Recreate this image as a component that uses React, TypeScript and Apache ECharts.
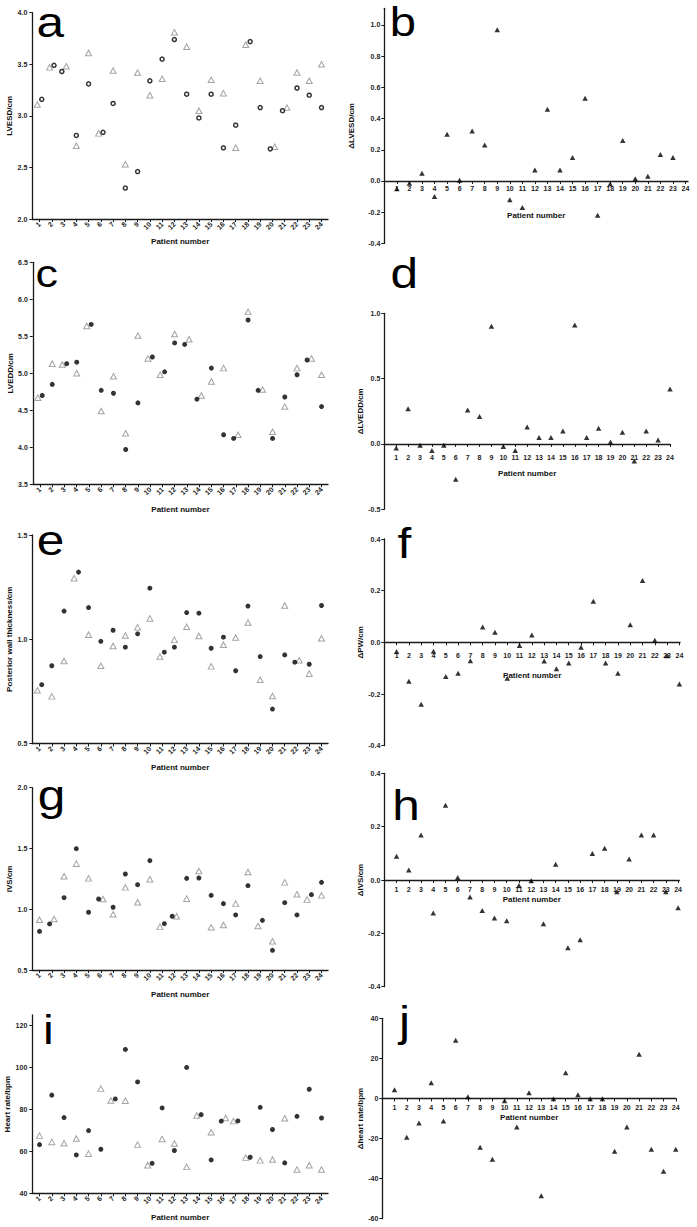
import React, { useEffect, useRef } from "react";
import * as echarts from "echarts";

// ---------- DATA ----------
const patients = [1, 2, 3, 4, 5, 6, 7, 8, 9, 10, 11, 12, 13, 14, 15, 16, 17, 18, 19, 20, 21, 22, 23, 24];

// a: LVESD (cm) — open grey triangles / black circles
const lvesdTriangle = [3.11, 3.47, 3.48, 2.71, 3.61, 2.83, 3.44, 2.53, 3.42, 3.2, 3.36, 3.81, 3.67, 3.05, 3.35, 3.22, 2.69, 3.69, 3.34, 2.7, 3.08, 3.42, 3.34, 3.5];
const lvesdCircle = [3.16, 3.49, 3.43, 2.81, 3.31, 2.84, 3.12, 2.3, 2.46, 3.34, 3.55, 3.74, 3.21, 2.98, 3.21, 2.69, 2.91, 3.72, 3.08, 2.68, 3.05, 3.27, 3.2, 3.08];
// b: ΔLVESD (cm)
const deltaLvesd = [-0.05, -0.015, 0.05, -0.1, 0.3, 0.005, 0.32, 0.23, 0.97, -0.12, -0.17, 0.07, 0.46, 0.07, 0.15, 0.53, -0.22, -0.02, 0.26, 0.015, 0.03, 0.17, 0.15, null];

// c: LVEDD (cm)
const lveddTriangle = [4.67, 5.13, 5.12, 5.0, 5.64, 4.49, 4.96, 4.19, 5.51, 5.2, 4.98, 5.53, 5.46, 4.7, 4.89, 5.07, 4.17, 5.83, 4.78, 4.21, 4.55, 5.07, 5.2, 4.98];
const lveddCircle = [4.7, 4.85, 5.13, 5.15, 5.66, 4.77, 4.73, 3.97, 4.6, 5.22, 5.02, 5.41, 5.39, 4.65, 5.07, 4.17, 4.12, 5.72, 4.77, 4.12, 4.68, 4.98, 5.18, 4.55];
// d: ΔLVEDD (cm)
const deltaLvedd = [-0.03, 0.27, -0.01, -0.05, -0.01, -0.27, 0.26, 0.21, 0.9, -0.02, -0.05, 0.13, 0.05, 0.05, 0.1, 0.91, 0.05, 0.12, 0.015, 0.09, -0.13, 0.1, 0.03, 0.42];

// e: posterior wall thickness (cm)
const pwTriangle = [0.755, 0.726, 0.896, 1.293, 1.022, 0.873, 0.968, 1.018, 1.058, 1.1, 0.917, 0.997, 1.06, 1.016, 0.87, 0.974, 1.008, 1.08, 0.806, 0.728, 1.162, 0.899, 0.835, 1.005];
const pwCircle = [0.782, 0.873, 1.135, 1.322, 1.152, 0.99, 1.043, 0.962, 1.026, 1.245, 0.938, 0.962, 1.128, 1.125, 0.957, 1.01, 0.849, 1.159, 0.917, 0.665, 0.925, 0.89, 0.88, 1.162];
// f: ΔPW (cm)
const deltaPw = [-0.035, -0.151, -0.24, -0.034, -0.132, -0.12, -0.071, 0.059, 0.039, -0.139, -0.012, 0.028, -0.072, -0.102, -0.08, -0.019, 0.159, -0.08, -0.12, 0.068, 0.239, 0.008, -0.052, -0.161];

// g: IVS (cm)
const ivsTriangle = [0.914, 0.92, 1.271, 1.375, 1.254, 1.084, 0.958, 1.18, 1.057, 1.246, 0.857, 0.942, 1.087, 1.315, 0.851, 0.87, 1.046, 1.306, 0.862, 0.736, 1.221, 1.123, 1.079, 1.114];
const ivsCircle = [0.818, 0.879, 1.095, 1.498, 0.975, 1.084, 1.016, 1.29, 1.202, 1.4, 0.881, 0.942, 1.254, 1.257, 1.114, 1.046, 0.953, 1.194, 0.909, 0.662, 1.054, 0.953, 1.12, 1.221];
// h: ΔIVS (cm)
const deltaIvs = [0.089, 0.0375, 0.169, -0.124, 0.28, 0.009, -0.064, -0.114, -0.1425, -0.1525, -0.021, -0.0025, -0.164, 0.059, -0.254, -0.224, 0.099, 0.119, -0.044, 0.079, 0.169, 0.169, -0.044, -0.104];

// i: heart rate (bpm)
const hrTriangle = [67.5, 64.5, 63.9, 66.1, 58.9, 89.9, 84.2, 84.1, 63.2, 53.4, 65.9, 63.7, 52.6, 77.1, 69.1, 75.9, 74.4, 57.0, 55.7, 56.1, 75.8, 51.3, 53.4, 51.3];
const hrCircle = [63.2, 86.8, 76.1, 58.3, 69.9, 61.0, 85.0, 108.6, 93.1, 54.3, 80.7, 60.4, 100.0, 77.5, 55.9, 74.4, 74.5, 57.2, 81.0, 70.4, 54.5, 76.7, 89.6, 75.9];
// j: Δheart rate (bpm)
const deltaHr = [4.3, -19.3, -12.3, 7.8, -11.2, 29, 0.8, -24.3, -30.3, -1.2, -14.3, 2.8, -48.5, -0.2, 12.8, 1.8, -0.2, -0.2, -26.3, -14.3, 22, -25.3, -36.3, -25.3];

// tick labels
const ticksA = [2.0, 2.5, 3.0, 3.5, 4.0];
const ticksB = [-0.4, -0.2, 0.0, 0.2, 0.4, 0.6, 0.8, 1.0];
const ticksC = [3.5, 4.0, 4.5, 5.0, 5.5, 6.0, 6.5];
const ticksD = [-0.5, 0.0, 0.5, 1.0];
const ticksE = [0.5, 1.0, 1.5];
const ticksF = [-0.4, -0.2, 0.0, 0.2, 0.4];
const ticksG = [0.5, 1.0, 1.5, 2.0];
const ticksH = [-0.4, -0.2, 0.0, 0.2, 0.4];
const ticksI = [40, 60, 80, 100, 120];
const ticksJ = [-60, -40, -20, 0, 20, 40];

// ---------- LAYOUT ----------
const FONT = '"Liberation Sans", Arial, sans-serif';
const AXIS_COLOR = "#1a1a1a";

type LeftPanel = {
  grid: [number, number, number, number];
  yMin: number; yMax: number; yTicks: number[]; dec: number;
  yName: string; yNameGap: number; xNameGap: number;
  tri: number[]; circ: number[]; ring: boolean;
};
type RightPanel = {
  grid: [number, number, number, number];
  xMax: number;
  yMin: number; yMax: number; yTicks: number[]; dec: number;
  yName: string; yNameGap: number; xNameGap: number; xLabelMargin: number;
  delta: (number | null)[];
};

const leftPanels: LeftPanel[] = [
  { grid: [32.3, 12.7, 295.7, 206.3], yMin: 2, yMax: 4, yTicks: ticksA, dec: 1, yName: "LVESD/cm", yNameGap: 18, xNameGap: 18, tri: lvesdTriangle, circ: lvesdCircle, ring: true },
  { grid: [32.8, 262.3, 295.2, 222], yMin: 3.5, yMax: 6.5, yTicks: ticksC, dec: 1, yName: "LVEDD/cm", yNameGap: 17.5, xNameGap: 21, tri: lveddTriangle, circ: lveddCircle, ring: false },
  { grid: [32.3, 535, 295.7, 208.5], yMin: 0.5, yMax: 1.5, yTicks: ticksE, dec: 1, yName: "Posterior wall thickness/cm", yNameGap: 18, xNameGap: 20, tri: pwTriangle, circ: pwCircle, ring: false },
  { grid: [32.3, 787.7, 295.7, 182.3], yMin: 0.5, yMax: 2.0, yTicks: ticksG, dec: 1, yName: "IVS/cm", yNameGap: 18, xNameGap: 20, tri: ivsTriangle, circ: ivsCircle, ring: false },
  { grid: [32.3, 1015, 295.7, 178.3], yMin: 40, yMax: 125, yTicks: ticksI, dec: 0, yName: "Heart rate/bpm", yNameGap: 19, xNameGap: 20, tri: hrTriangle, circ: hrCircle, ring: false },
];

const rightPanels: RightPanel[] = [
  { grid: [384.3, 8.3, 303.7, 235.1], xMax: 24.2, yMin: -0.4, yMax: 1.107, yTicks: ticksB, dec: 1, yName: "\u0394LVESD/cm", yNameGap: 28.5, xNameGap: 31, xLabelMargin: 4.5, delta: deltaLvesd },
  { grid: [384.3, 313.3, 285.7, 196], xMax: 24, yMin: -0.5, yMax: 1.0, yTicks: ticksD, dec: 1, yName: "\u0394LVEDD/cm", yNameGap: 19.3, xNameGap: 25.7, xLabelMargin: 10.5, delta: deltaLvedd },
  { grid: [384.3, 539, 295.7, 206.7], xMax: 24.05, yMin: -0.4, yMax: 0.4, yTicks: ticksF, dec: 1, yName: "\u0394PW/cm", yNameGap: 19.3, xNameGap: 28.7, xLabelMargin: 9.2, delta: deltaPw },
  { grid: [384.3, 773.3, 295, 213.4], xMax: 24.1, yMin: -0.4, yMax: 0.4, yTicks: ticksH, dec: 1, yName: "\u0394IVS/cm", yNameGap: 19.3, xNameGap: 15.3, xLabelMargin: 5.5, delta: deltaIvs },
  { grid: [382.3, 1018.3, 293.7, 200.4], xMax: 24.02, yMin: -60, yMax: 40, yTicks: ticksJ, dec: 0, yName: "\u0394heart rate/bpm", yNameGap: 17.3, xNameGap: 15.4, xLabelMargin: 5.5, delta: deltaHr },
];

// panel letters: [letter, left x, baseline y, font size]
const letters: [string, number, number, number][] = [
  ["a", 36.5, 37, 42],
  ["b", 389.8, 35.5, 40],
  ["c", 35.5, 287, 38],
  ["d", 390.5, 288.3, 42],
  ["e", 36.7, 555, 42],
  ["f", 397.5, 558.3, 42],
  ["g", 37.8, 810, 42],
  ["h", 392.2, 820, 42],
  ["i", 43, 1044, 41],
  ["j", 399, 1036, 42],
];

function pairPoints(tri: number[], circ: number[], pxPerUnit: number) {
  const triPts: number[][] = [];
  const circPts: number[][] = [];
  patients.forEach((p, k) => {
    const t = tri[k];
    const c = circ[k];
    let dt = 0;
    let dc = 0;
    if (Math.abs(t - c) * pxPerUnit < 6.3) {
      if (t < c) { dt = -0.18; dc = 0.18; } else { dt = 0.18; dc = -0.18; }
    }
    triPts.push([p + dt, t]);
    circPts.push([p + dc, c]);
  });
  return { triPts, circPts };
}

function buildOption() {
  const grid: any[] = [];
  const xAxis: any[] = [];
  const yAxis: any[] = [];
  const series: any[] = [];

  const lineStyle = { color: AXIS_COLOR, width: 1.3 };
  const labelBase = { fontSize: 7, fontWeight: "bold", fontFamily: FONT, color: "#222" };
  const nameStyle = { fontSize: 8, fontWeight: "bold", fontFamily: FONT, color: "#111" };

  leftPanels.forEach((p) => {
    const gi = grid.length;
    grid.push({ left: p.grid[0], top: p.grid[1], width: p.grid[2], height: p.grid[3] });
    xAxis.push({
      gridIndex: gi, type: "value", min: 0.41, max: 24.53,
      axisLine: { show: true, onZero: false, lineStyle },
      axisTick: { show: true, length: 3, customValues: patients, lineStyle: { color: AXIS_COLOR, width: 1 } },
      axisLabel: { ...labelBase, customValues: patients, rotate: 45, margin: 4 },
      splitLine: { show: false },
      name: "Patient number", nameLocation: "middle", nameGap: p.xNameGap, nameTextStyle: nameStyle,
    });
    yAxis.push({
      gridIndex: gi, type: "value", min: p.yMin, max: p.yMax,
      axisLine: { show: true, onZero: false, lineStyle },
      axisTick: { show: true, length: 3, customValues: p.yTicks, lineStyle: { color: AXIS_COLOR, width: 1 } },
      axisLabel: { ...labelBase, customValues: p.yTicks, margin: 5, formatter: (v: number) => v.toFixed(p.dec) },
      splitLine: { show: false },
      name: p.yName, nameLocation: "middle", nameGap: p.yNameGap, nameTextStyle: nameStyle,
    });
    const pxPerUnit = p.grid[3] / (p.yMax - p.yMin);
    const { triPts, circPts } = pairPoints(p.tri, p.circ, pxPerUnit);
    series.push({
      type: "scatter", xAxisIndex: gi, yAxisIndex: gi, symbol: "triangle", symbolSize: [6, 5.5],
      itemStyle: { color: "#ffffff", borderColor: "#8c8c8c", borderWidth: 1 }, data: triPts, silent: true, z: 2,
    });
    series.push({
      type: "scatter", xAxisIndex: gi, yAxisIndex: gi, symbol: "circle", symbolSize: p.ring ? 4 : 5,
      itemStyle: p.ring ? { color: "#ffffff", borderColor: "#000", borderWidth: 1.5 } : { color: "#000" },
      data: circPts, silent: true, z: 3,
    });
  });

  rightPanels.forEach((p) => {
    const gi = grid.length;
    grid.push({ left: p.grid[0], top: p.grid[1], width: p.grid[2], height: p.grid[3] });
    // lift the whole x axis (line, ticks, labels, name) to the value 0 of the y axis
    const zeroLift = (p.grid[3] * (0 - p.yMin)) / (p.yMax - p.yMin);
    xAxis.push({
      gridIndex: gi, type: "value", min: 0, max: p.xMax, position: "bottom", offset: -zeroLift,
      axisLine: { show: true, onZero: false, lineStyle },
      axisTick: { show: true, length: 3, customValues: patients, lineStyle: { color: AXIS_COLOR, width: 1 } },
      axisLabel: { ...labelBase, customValues: patients, margin: p.xLabelMargin },
      splitLine: { show: false },
      name: "Patient number", nameLocation: "middle", nameGap: p.xNameGap, nameTextStyle: nameStyle,
    });
    yAxis.push({
      gridIndex: gi, type: "value", min: p.yMin, max: p.yMax,
      axisLine: { show: true, onZero: false, lineStyle },
      axisTick: { show: true, length: 3, customValues: p.yTicks, lineStyle: { color: AXIS_COLOR, width: 1 } },
      axisLabel: { ...labelBase, customValues: p.yTicks, margin: 4, formatter: (v: number) => v.toFixed(p.dec) },
      splitLine: { show: false },
      name: p.yName, nameLocation: "middle", nameGap: p.yNameGap, nameTextStyle: nameStyle,
    });
    const pts: number[][] = [];
    p.delta.forEach((v, k) => { if (v !== null) pts.push([patients[k], v]); });
    series.push({
      type: "scatter", xAxisIndex: gi, yAxisIndex: gi, symbol: "triangle", symbolSize: [5.5, 5],
      itemStyle: { color: "#000" }, data: pts, silent: true, z: 3,
    });
  });

  const graphic = letters.map(([t, x, base, size]) => ({
    type: "text",
    x,
    y: base - 0.3465 * size,
    scaleX: 1.18,
    silent: true,
    style: { text: t, font: `${size}px ${FONT}`, lineHeight: 30, fill: "#000", align: "left", verticalAlign: "middle" },
  }));

  return {
    animation: false,
    backgroundColor: "#ffffff",
    grid, xAxis, yAxis, series, graphic,
  };
}

export default function App() {
  const ref = useRef<HTMLDivElement>(null);
  useEffect(() => {
    if (!ref.current) return;
    const chart = echarts.init(ref.current, null, { renderer: "svg" });
    chart.setOption(buildOption() as any);
    return () => chart.dispose();
  }, []);
  return (
    <div
      ref={ref}
      style={{ position: "fixed", left: 0, top: 0, width: 697, height: 1227, background: "#fff" }}
    />
  );
}
